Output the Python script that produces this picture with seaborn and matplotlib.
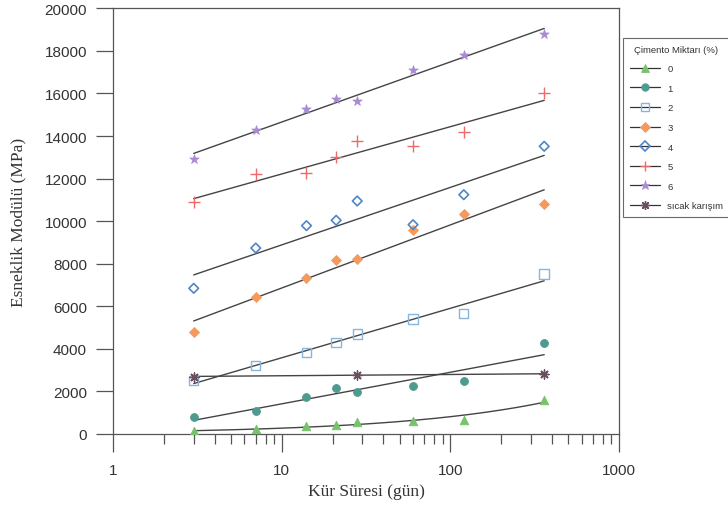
import numpy as np
import pandas as pd
import matplotlib
matplotlib.use("Agg")
import matplotlib.pyplot as plt
from matplotlib.lines import Line2D
import seaborn as sns

# Curing time (days) and resilient modulus (MPa) for each cement content
days = [3, 7, 14, 21, 28, 60, 120, 360]
cem_0 = [127, 235, 391, 407, 548, 611, 673, 1583]
cem_1 = [783, 1096, 1754, 2161, 1958, 2271, 2475, 4261]
cem_2 = [2504, 3209, 3838, 4308, 4698, 5403, 5671, 7517]
cem_3 = [4806, 6422, 7343, 8175, 8222, 9584, 10350, 10806]
cem_4 = [6845, 8738, 9788, 10040, 10947, 9834, 11243, 13517]
cem_5 = [10886, 12215, 12262, 13000, 13780, 13517, 14174, 16021]
cem_6 = [12920, 14282, 15269, 15739, 15660, 17101, 17820, 18793]
hot_days = [3, 28, 360]
hot_mix = [2693, 2787, 2819]

labels = ["0", "1", "2", "3", "4", "5", "6", "sıcak karışım"]
x_ticks = [1, 10, 100, 1000]
y_ticks = list(range(0, 20001, 2000))

series = [
    (labels[0], days, cem_0, "power"),
    (labels[1], days, cem_1, "log"),
    (labels[2], days, cem_2, "log"),
    (labels[3], days, cem_3, "log"),
    (labels[4], days, cem_4, "log"),
    (labels[5], days, cem_5, "log"),
    (labels[6], days, cem_6, "log"),
    (labels[7], hot_days, hot_mix, "log"),
]

styles = {
    "0": dict(marker="^", fc="#78c26c", ec="#78c26c", s=38, lw=0.6),
    "1": dict(marker="o", fc="#4f9a90", ec="#4f9a90", s=32, lw=0.6),
    "2": dict(marker="s", fc="none", ec="#86b5dd", s=46, lw=1.0),
    "3": dict(marker="D", fc="#f59a5c", ec="#f59a5c", s=26, lw=0.6),
    "4": dict(marker="D", fc="none", ec="#4f86c8", s=24, lw=1.2),
    "5": dict(marker="+", fc="#ee6b6b", ec="#ee6b6b", s=64, lw=1.0),
    "6": dict(marker="*", fc="#a98ad3", ec="#a98ad3", s=50, lw=0.5),
    "sıcak karışım": dict(marker=(8, 2, 0), fc="#6b4f60", ec="#6b4f60", s=42, lw=1.0),
}

sns.set_style("ticks")
plt.rcParams["font.family"] = ["Liberation Sans", "DejaVu Sans"]

fig = plt.figure(figsize=(7.28, 5.06), dpi=100)
ax = fig.add_axes([113.3 / 728, 1 - 435 / 506, (619 - 113.3) / 728, (435 - 9.3) / 506])

line_color = "#444444"
for name, t, v, kind in series:
    t = np.asarray(t, float)
    v = np.asarray(v, float)
    st = styles[name]
    # trend line fitted to the measured points
    tt = np.geomspace(t.min(), t.max(), 200)
    if kind == "power":
        b, a = np.polyfit(np.log(t), np.log(v), 1)
        vv = np.exp(a + b * np.log(tt))
    else:
        b, a = np.polyfit(np.log(t), v, 1)
        vv = a + b * np.log(tt)
    sns.lineplot(x=tt, y=vv, ax=ax, color=line_color, linewidth=1.0,
                 estimator=None, sort=False, zorder=2)
    df = pd.DataFrame({"gun": t, "mpa": v})
    if st["marker"] in ("+",) or isinstance(st["marker"], tuple):
        sns.scatterplot(data=df, x="gun", y="mpa", ax=ax, marker=st["marker"],
                        s=st["s"], color=st["ec"], linewidth=st["lw"], zorder=3)
    else:
        sns.scatterplot(data=df, x="gun", y="mpa", ax=ax, marker=st["marker"],
                        s=st["s"], facecolor=st["fc"], edgecolor=st["ec"],
                        linewidth=st["lw"], zorder=3)

ax.set_xscale("log")
ax.set_xlim(1, 1000)
ax.set_ylim(0, 20000)
ax.set_xticks(x_ticks)
ax.set_xticklabels([str(v) for v in x_ticks])
ax.set_yticks(y_ticks)
ax.set_yticklabels([str(v) for v in y_ticks])
ax.xaxis.set_minor_locator(matplotlib.ticker.LogLocator(base=10, subs=np.arange(2, 10)))
ax.xaxis.set_minor_formatter(matplotlib.ticker.NullFormatter())

spine_c = "#555555"
for sp in ax.spines.values():
    sp.set_visible(True)
    sp.set_color(spine_c)
    sp.set_linewidth(0.9)

ax.tick_params(axis="x", which="major", direction="out", length=13, width=0.9,
               color=spine_c, pad=8, labelsize=11, labelcolor="#333333")
ax.tick_params(axis="x", which="minor", direction="out", length=7, width=0.9,
               color=spine_c)
ax.tick_params(axis="y", which="major", direction="out", length=12, width=0.9,
               color=spine_c, pad=7, labelsize=11, labelcolor="#333333")
ax.tick_params(top=False, right=False, which="both")

ax.set_xlabel("Kür Süresi (gün)", fontsize=12.5, family=["Liberation Serif", "DejaVu Serif"],
              color="#333333", labelpad=4)
ax.set_ylabel("Esneklik Modülü (MPa)", fontsize=12.5, family=["Liberation Serif", "DejaVu Serif"],
              color="#333333", labelpad=13)

handles = []
for name in labels:
    st = styles[name]
    if st["marker"] in ("+",) or isinstance(st["marker"], tuple):
        h = Line2D([], [], color="#333333", linewidth=0.9, marker=st["marker"],
                   markersize=np.sqrt(st["s"]) * 0.95, markeredgecolor=st["ec"],
                   markeredgewidth=st["lw"])
    else:
        h = Line2D([], [], color="#333333", linewidth=0.9, marker=st["marker"],
                   markersize=np.sqrt(st["s"]) * 0.95, markerfacecolor=st["fc"],
                   markeredgecolor=st["ec"], markeredgewidth=st["lw"])
    handles.append(h)

leg = fig.legend(handles, labels, title="Çimento Miktarı (%)", loc="upper left",
                 bbox_to_anchor=(623 / 728, 1 - 39 / 506), frameon=True, fancybox=False,
                 fontsize=6.8, title_fontsize=6.8, handlelength=3.2, handletextpad=0.8,
                 labelspacing=1.12, borderpad=0.7, borderaxespad=0.0)
leg.get_frame().set_edgecolor("#444444")
leg.get_frame().set_linewidth(0.8)
for txt in leg.get_texts():
    txt.set_color("#333333")
leg.get_title().set_color("#333333")

fig.savefig("out.png", dpi=100)
